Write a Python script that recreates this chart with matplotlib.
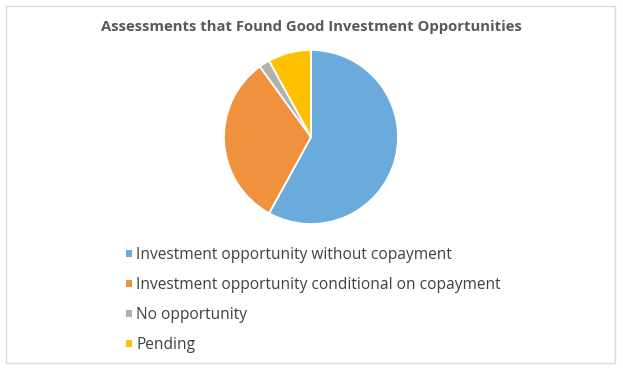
import matplotlib
matplotlib.use("Agg")
import matplotlib.pyplot as plt
from matplotlib.patches import Rectangle, Patch

categories = [
    "Investment opportunity without copayment",
    "Investment opportunity conditional on copayment",
    "No opportunity",
    "Pending",
]
shares = [58, 32, 2, 8]
colors = ["#6aabdc", "#f0913d", "#b0b0b0", "#ffc000"]
title = "Assessments that Found Good Investment Opportunities"

W, H = 623, 373
fig = plt.figure(figsize=(W / 100, H / 100), dpi=100)
fig.patch.set_facecolor("white")

# chart border
fig.add_artist(Rectangle((6 / W, 1 - 363 / H), 609 / W, 357 / H, transform=fig.transFigure,
                         fill=False, edgecolor="#d9d9d9", linewidth=1.0))

cx, cy, r = 311, 137, 87
ax = fig.add_axes([(cx - r) / W, (H - cy - r) / H, 2 * r / W, 2 * r / H])
ax.pie(shares, colors=colors, startangle=90, counterclock=False,
       wedgeprops=dict(edgecolor="white", linewidth=1.3))
ax.set_xlim(-1, 1)
ax.set_ylim(-1, 1)
ax.set_aspect("equal")
ax.axis("off")

fig.text(311 / W, 1 - 27 / H, title, ha="center", va="center",
         fontsize=10.7, fontweight="bold", color="#595959", family="Open Sans")

handles = [Patch(facecolor=c, edgecolor="none") for c in colors]
fig.legend(handles, categories, loc="upper left", bbox_to_anchor=(126 / W, 1 - 247 / H),
           frameon=False, borderpad=0, borderaxespad=0,
           handlelength=0.385, handleheight=0.385, handletextpad=0.26,
           labelspacing=0.9, prop=dict(family="Open Sans", size=11.2),
           labelcolor="#404040")

fig.savefig("out.png", dpi=100)
